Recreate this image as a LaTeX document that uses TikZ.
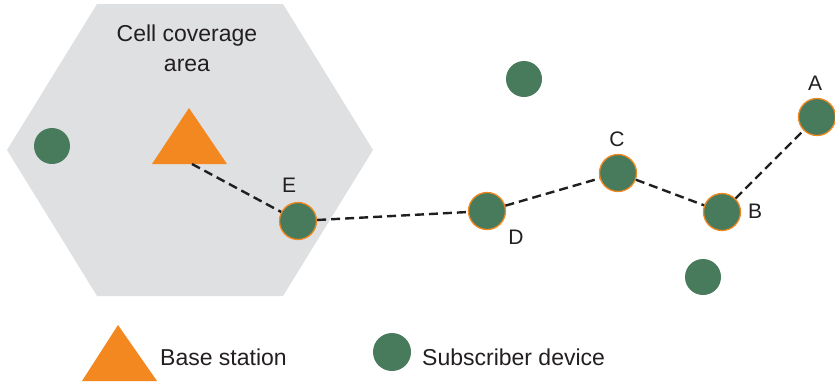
\documentclass[tikz,border=0pt]{standalone}
\usepackage{fontspec}
\setmainfont{Liberation Sans}
\definecolor{cellgray}{HTML}{DFE0E2}
\definecolor{bsorange}{HTML}{F38720}
\definecolor{devgreen}{HTML}{487A5C}
\definecolor{txt}{HTML}{231F20}
\tikzset{
  device/.style={circle, fill=devgreen, minimum size=36pt, inner sep=0pt},
  relay/.style={circle, fill=devgreen, draw=bsorange, line width=1.3pt, minimum size=37pt, inner sep=0pt},
  link/.style={draw=black!88, line width=2.4pt, dash pattern=on 9pt off 5pt},
  lbl/.style={text=txt, font=\fontsize{21}{23}\selectfont, inner sep=0pt},
  bigtxt/.style={text=txt, font=\fontsize{23}{30}\selectfont, inner sep=0pt, align=center}
}
\begin{document}
\begin{tikzpicture}[x=1pt,y=-1pt]
\useasboundingbox (0,0) rectangle (835,384);
% cell hexagon
\fill[cellgray] (7,150) -- (97,4) -- (283,4) -- (373,150) -- (283,296) -- (97,296) -- cycle;
\node[bigtxt] (celltxt) at (187,48) {Cell coverage\\area};
% base station
\fill[bsorange] (189,108) -- (227,164) -- (152,164) -- cycle;
\coordinate (bs) at (192,164);
% devices
\node[device] (d1) at (52,146) {};
\node[device] (d2) at (524,79) {};
\node[device] (d3) at (703,277) {};
\node[relay] (E) at (298,221) {};
\node[relay] (D) at (487,211) {};
\node[relay] (C) at (618,173) {};
\node[relay] (B) at (722,212) {};
\node[relay] (A) at (817,117) {};
% labels
\node[lbl] (lE) at (289,185) {E};
\node[lbl] (lD) at (516,237) {D};
\node[lbl] (lC) at (617,139) {C};
\node[lbl] (lB) at (755,211) {B};
\node[lbl] (lA) at (815,83) {A};
% links
\draw[link] (bs) -- (E);
\draw[link] (E) -- (D);
\draw[link] (D) -- (C);
\draw[link] (C) -- (B);
\draw[link] (B) -- (A);
% legend
\fill[bsorange] (118,325) -- (157,381) -- (82,381) -- cycle;
\node[bigtxt, anchor=west] (lgbs) at (160,357) {Base station};
\node[device, minimum size=38pt] (lgdev) at (392,352) {};
\node[bigtxt, anchor=west] (lgsd) at (422,357) {Subscriber device};
\end{tikzpicture}
\end{document}
